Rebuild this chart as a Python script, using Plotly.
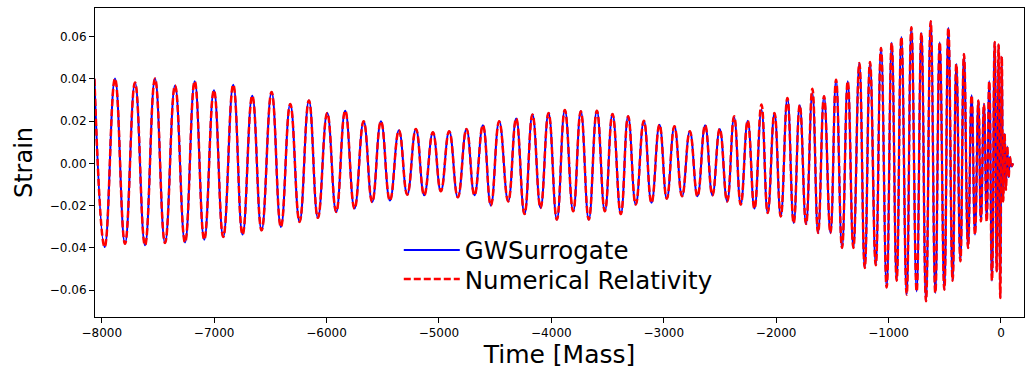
import plotly.graph_objects as go

# Extrema of the waveform (time in units of total mass)
time_mass = [
    -8065, -7974, -7882, -7793, -7704, -7615, -7526, -7437, -7348, -7259, -7173, -7088, -7002, -6919,
    -6830, -6747, -6661, -6578, -6489, -6406, -6323, -6240, -6157, -6077, -5994, -5914, -5834, -5751, -5670,
    -5594, -5516, -5436, -5356, -5282, -5205, -5131, -5054, -4983, -4909, -4832, -4755, -4684, -4609, -4538, -4464,
    -4384, -4313, -4239, -4168, -4096, -4025, -3951, -3880, -3806, -3738, -3667, -3595, -3524, -3456, -3382, -3317,
    -3249, -3177, -3109, -3038, -2973, -2905, -2837, -2768, -2700, -2632, -2567, -2502, -2436, -2374, -2315, -2253,
    -2193, -2131, -2075,
    -2015, -1959, -1900, -1844, -1790, -1734, -1678, -1627, -1574, -1517, -1467, -1414, -1363, -1313, -1260, -1212,
    -1165, -1114, -1067, -1017, -972,
    -928, -886, -839, -797, -750, -708, -667, -625, -584, -545, -504, -468, -430, -397, -361, -329, -293, -261,
    -231, -201, -178, -151, -127, -104, -80, -56, -38, -21, -6, 7,
    20, 32, 44, 56, 68, 80, 92, 107,
]

gwsurrogate_strain = [
    0.0400, -0.0396, 0.0401, -0.0380, 0.0383, -0.0388, 0.0401, -0.0377, 0.0368, -0.0374, 0.0388, -0.0361, 0.0346, -0.0348,
    0.0372, -0.0337, 0.0320, -0.0317, 0.0338, -0.0301, 0.0281, -0.0277, 0.0297, -0.0258, 0.0238, -0.0230, 0.0249, -0.0214, 0.0199,
    -0.0183, 0.0199, -0.0176, 0.0156, -0.0148, 0.0163, -0.0151, 0.0147, -0.0132, 0.0152, -0.0161, 0.0163, -0.0151, 0.0180, -0.0199, 0.0199,
    -0.0180, 0.0212, -0.0240, 0.0231, -0.0211, 0.0238, -0.0266, 0.0252, -0.0227, 0.0246, -0.0266, 0.0249, -0.0227, 0.0234, -0.0240, 0.0223,
    -0.0195, 0.0202, -0.0187, 0.0183, -0.0167, 0.0175, -0.0156, 0.0152, -0.0156, 0.0180, -0.0151, 0.0163, -0.0180, 0.0218, -0.0195, 0.0202,
    -0.0214, 0.0254, -0.0235,
    0.0238, -0.0251, 0.0309, -0.0282, 0.0275, -0.0287, 0.0333, -0.0329, 0.0317, -0.0329, 0.0396, -0.0400, 0.0388, -0.0400, 0.0475, -0.0495,
    0.0480, -0.0482, 0.0546, -0.0587, 0.0570,
    -0.0555, 0.0598, -0.0621, 0.0644, -0.0606, 0.0617, -0.0653, 0.0672, -0.0613, 0.0573, -0.0598, 0.0641, -0.0555, 0.0470, -0.0463, 0.0517, -0.0400, 0.0322,
    -0.0337, 0.0297, -0.0274, 0.0281, -0.0258, 0.0388, -0.0555, 0.0574, -0.0511, 0.0562, -0.0637, 0.0506,
    -0.0180, 0.0140, -0.0125, 0.0080, -0.0065, 0.0030, -0.0015, 0.0,
]

# Places where the Numerical Relativity curve visibly departs from the surrogate
nr_differences = {-2374: 0.0223, -2131: 0.0278, -1678: 0.0353, -127: -0.0275}
nr_strain = [nr_differences.get(t, v) for t, v in zip(time_mass, gwsurrogate_strain)]

x_tick_values = [-8000, -7000, -6000, -5000, -4000, -3000, -2000, -1000, 0]
x_tick_labels = ["\u22128000", "\u22127000", "\u22126000", "\u22125000", "\u22124000",
                 "\u22123000", "\u22122000", "\u22121000", "0"]
y_tick_values = [-0.06, -0.04, -0.02, 0.0, 0.02, 0.04, 0.06]
y_tick_labels = ["\u22120.06", "\u22120.04", "\u22120.02", "0.00", "0.02", "0.04", "0.06"]

FONT = "DejaVu Sans"

fig = go.Figure()
fig.add_trace(go.Scatter(
    x=time_mass, y=gwsurrogate_strain, mode="lines", name="GWSurrogate",
    line=dict(color="#0000ff", width=2, shape="spline", smoothing=1.3),
    legend="legend",
))
fig.add_trace(go.Scatter(
    x=time_mass, y=nr_strain, mode="lines", name="Numerical Relativity",
    line=dict(color="#ff0000", width=2.5, dash="7px,3px", shape="spline", smoothing=1.3),
    legend="legend2",
))

axis_common = dict(
    showline=True, linecolor="black", linewidth=1, mirror=True,
    ticks="outside", ticklen=5, tickwidth=1, tickcolor="black",
    showgrid=False, zeroline=False,
    tickfont=dict(family=FONT, size=12, color="black"),
)

legend_common = dict(
    xanchor="left", yanchor="middle",
    bgcolor="rgba(255,255,255,0)", borderwidth=0,
    font=dict(family=FONT, size=24.5, color="black"),
    itemwidth=56,
)

fig.update_layout(
    width=1033, height=372,
    margin=dict(l=95, r=9, t=8, b=55),
    paper_bgcolor="white", plot_bgcolor="white",
    font=dict(family=FONT, color="black"),
    xaxis=dict(
        range=[-8060, 205], tickvals=x_tick_values, ticktext=x_tick_labels,
        title=dict(text="Time [Mass]", font=dict(family=FONT, size=25), standoff=6),
        **axis_common,
    ),
    yaxis=dict(
        range=[-0.0727, 0.0735], tickvals=y_tick_values, ticktext=y_tick_labels,
        title=dict(text="Strain", font=dict(family=FONT, size=24), standoff=10),
        **axis_common,
    ),
    legend=dict(x=0.327, y=0.2168, **legend_common),
    legend2=dict(x=0.327, y=0.1229, **legend_common),
    showlegend=True,
)

fig.write_html("out.html", config={"displayModeBar": False},
               post_script="document.body.style.margin='0';")
